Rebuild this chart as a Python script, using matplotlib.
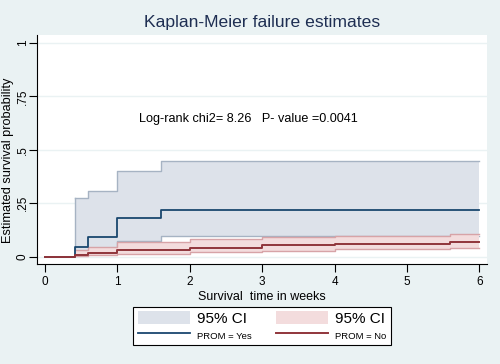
import matplotlib
matplotlib.use("Agg")
import matplotlib.pyplot as plt
from matplotlib.patches import Patch
from matplotlib.lines import Line2D

plt.rcParams['font.family'] = ['Liberation Sans', 'DejaVu Sans']

# PROM = Yes
t_yes = [0, 0.41, 0.59, 1.0, 1.6, 6.0]
f_yes = [0, 0.043, 0.090, 0.178, 0.220, 0.220]
up_yes = [0, 0.275, 0.308, 0.400, 0.447, 0.447]
lo_yes = [0, 0.006, 0.020, 0.071, 0.097, 0.097]

# PROM = No
t_no = [0, 0.41, 0.59, 1.0, 2.0, 3.0, 4.0, 5.6, 6.0]
f_no = [0, 0.008, 0.018, 0.030, 0.040, 0.052, 0.060, 0.067, 0.067]
up_no = [0, 0.032, 0.046, 0.068, 0.080, 0.090, 0.095, 0.104, 0.104]
lo_no = [0, 0.002, 0.006, 0.012, 0.019, 0.028, 0.034, 0.040, 0.040]

xticks = [0, 1, 2, 3, 4, 5, 6]
yticks = [0, 0.25, 0.5, 0.75, 1]
ytick_labels = ['0', '.25', '.5', '.75', '1']

BG = '#EAF2F3'
BLUE = '#1A476F'
RED = '#90353B'
GRAY_FILL = '#DDE2EA'
GRAY_EDGE = '#A6B3C3'
PINK_FILL = '#F3DCDD'
PINK_EDGE = '#D7A3A7'

fig = plt.figure(figsize=(5, 3.64), dpi=100, facecolor=BG)
ax = fig.add_axes([37/500, 1-264/364, 450/500, 229/364])
ax.set_facecolor('white')

# CI fills (start at first event time)
ax.fill_between(t_yes[1:], lo_yes[1:], up_yes[1:], step='post',
                facecolor=GRAY_FILL, edgecolor='none', zorder=2)
ax.step(t_yes[1:], up_yes[1:], where='post', color=GRAY_EDGE, lw=1, zorder=2.1)
ax.step(t_yes[1:], lo_yes[1:], where='post', color=GRAY_EDGE, lw=1, zorder=2.1)
ax.plot([t_yes[1]]*2, [lo_yes[1], up_yes[1]], color=GRAY_EDGE, lw=1, zorder=2.1)

ax.fill_between(t_no[1:], lo_no[1:], up_no[1:], step='post',
                facecolor=PINK_FILL, edgecolor='none', zorder=3)
ax.step(t_no[1:], up_no[1:], where='post', color=PINK_EDGE, lw=1, zorder=3.1)
ax.step(t_no[1:], lo_no[1:], where='post', color=PINK_EDGE, lw=1, zorder=3.1)

ax.step(t_yes, f_yes, where='post', color=BLUE, lw=1.3, zorder=4)
ax.step(t_no, f_no, where='post', color=RED, lw=1.4, zorder=4)

ax.set_xlim(-0.11, 6.105)
ax.set_ylim(-0.035, 1.037)
ax.set_xticks(xticks)
ax.set_xticklabels([str(x) for x in xticks], fontsize=8.5)
ax.set_yticks(yticks)
ax.set_yticklabels(ytick_labels, fontsize=8.5, rotation=90, va='center')
ax.tick_params(direction='out', length=5.5, width=0.8, color='black')
ax.tick_params(axis='y', pad=0.5)
ax.tick_params(axis='x', pad=3)
for y in yticks:
    ax.axhline(y, color=BG, lw=1, zorder=1)
for s in ['top', 'right']:
    ax.spines[s].set_visible(False)
for s in ['left', 'bottom']:
    ax.spines[s].set_linewidth(0.8)
    ax.spines[s].set_color('black')

ax.set_xlabel('Survival  time in weeks', fontsize=9)
ax.xaxis.set_label_coords(0.5, -0.12)
ax.set_ylabel('Estimated survival probability', fontsize=9.2)
ax.yaxis.set_label_coords(-0.052, (264-160)/229)

ax.text(1.30, 0.644, 'Log-rank chi2= 8.26   P- value =0.0041',
        fontsize=9.05, va='center', ha='left')

fig.text(262/500, 1-22/364, 'Kaplan-Meier failure estimates',
         fontsize=12.6, color='#1E2E52', ha='center', va='center')

handles = [Patch(facecolor=GRAY_FILL, edgecolor='none'),
           Line2D([], [], color=BLUE, lw=1.3),
           Patch(facecolor=PINK_FILL, edgecolor='none'),
           Line2D([], [], color=RED, lw=1.4)]
labels = ['95% CI', 'PROM = Yes', '95% CI', 'PROM = No']
leg = fig.legend(handles, labels, ncol=2, loc='center',
                 bbox_to_anchor=(262/500, 1-326/364), fontsize=11,
                 frameon=True, fancybox=False, edgecolor='black',
                 facecolor='white', framealpha=1,
                 handlelength=3.4, handleheight=0.85, handletextpad=0.45,
                 columnspacing=1.6, labelspacing=0.1, borderpad=0.3)
leg.get_frame().set_linewidth(0.8)
texts = leg.get_texts()
texts[1].set_fontsize(6.8)
texts[3].set_fontsize(6.8)

fig.savefig('out.png', dpi=100, facecolor=BG)
